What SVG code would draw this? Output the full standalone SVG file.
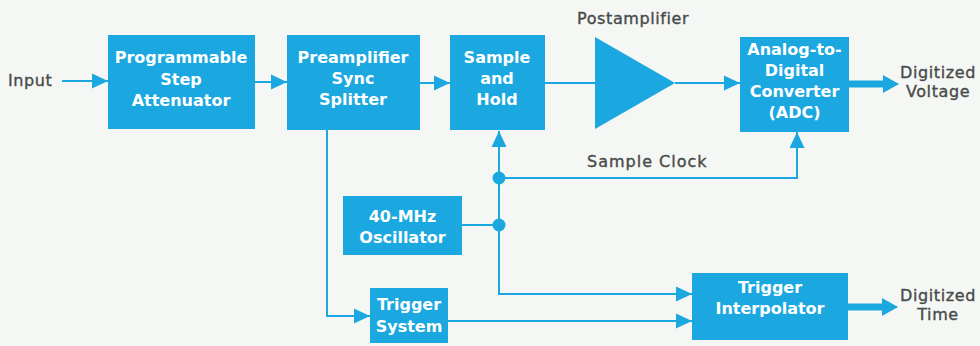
<svg xmlns="http://www.w3.org/2000/svg" width="980" height="346" viewBox="0 0 980 346">
<defs>
<style>
.box{fill:#1ba8e0}
.bt{fill:#ffffff;font-family:"DejaVu Sans",sans-serif;font-weight:bold;font-size:16px;text-anchor:middle}
.lb{fill:#474a48;stroke:#474a48;stroke-width:0.35;font-family:"DejaVu Sans",sans-serif;font-size:16px;letter-spacing:0.6px}
.ln{fill:none;stroke:#1ba8e0;stroke-width:2}
.th{fill:none;stroke:#1ba8e0;stroke-width:7}
</style>
<marker id="ah" markerUnits="userSpaceOnUse" markerWidth="16" markerHeight="16" viewBox="0 0 16 16" refX="16" refY="8" orient="auto">
<path d="M0,0.5 L16,8 L0,15.5 Z" fill="#1ba8e0"/>
</marker>
<marker id="ahT" markerUnits="userSpaceOnUse" markerWidth="16" markerHeight="18" viewBox="0 0 16 18" refX="15" refY="9" orient="auto">
<path d="M0,0 L16,9 L0,18 Z" fill="#1ba8e0"/>
</marker>
</defs>
<rect width="980" height="346" fill="#f5f7f4"/>

<g id="connectors">
<line class="ln" x1="62" y1="81" x2="108" y2="81" marker-end="url(#ah)"/>
<line class="ln" x1="255" y1="82" x2="287" y2="82" marker-end="url(#ah)"/>
<line class="ln" x1="420" y1="83" x2="450" y2="83" marker-end="url(#ah)"/>
<line class="ln" x1="545" y1="83" x2="596" y2="83"/>
<line class="ln" x1="675" y1="83" x2="740" y2="83" marker-end="url(#ah)"/>
<line class="th" x1="849" y1="84" x2="884" y2="84"/>
<line class="ln" x1="884" y1="84" x2="898" y2="84" marker-end="url(#ahT)"/>
<polyline class="ln" points="327,130 327,316 370,316" marker-end="url(#ah)"/>
<line class="ln" x1="499" y1="178" x2="499" y2="131" marker-end="url(#ah)"/>
<polyline class="ln" points="499,178 797,178 797,132" marker-end="url(#ah)"/>
<polyline class="ln" points="499,178 499,294 692,294" marker-end="url(#ah)"/>
<line class="ln" x1="462" y1="225" x2="499" y2="225"/>
<line class="ln" x1="448" y1="321" x2="692" y2="321" marker-end="url(#ah)"/>
<line class="th" x1="848" y1="307" x2="883" y2="307"/>
<line class="ln" x1="883" y1="307" x2="897" y2="307" marker-end="url(#ahT)"/>
<circle cx="499" cy="178" r="6.5" fill="#1ba8e0"/>
<circle cx="499" cy="225" r="6.5" fill="#1ba8e0"/>
</g>

<g id="input"><text class="lb" x="8" y="86">Input</text></g>

<g id="attenuator">
<rect class="box" x="108" y="35" width="147" height="94"/>
<text class="bt" x="181" y="63">Programmable</text>
<text class="bt" x="181" y="85">Step</text>
<text class="bt" x="181" y="106">Attenuator</text>
</g>

<g id="preamplifier">
<rect class="box" x="287" y="35" width="133" height="95"/>
<text class="bt" x="353" y="63">Preamplifier</text>
<text class="bt" x="353" y="84">Sync</text>
<text class="bt" x="353" y="105">Splitter</text>
</g>

<g id="samplehold">
<rect class="box" x="450" y="35" width="95" height="95"/>
<text class="bt" x="497" y="63">Sample</text>
<text class="bt" x="497" y="84">and</text>
<text class="bt" x="497" y="105">Hold</text>
</g>

<g id="postamplifier">
<polygon points="595,37 675,83 595,129" fill="#1ba8e0"/>
<text class="lb" x="577" y="24">Postamplifier</text>
</g>

<g id="adc">
<rect class="box" x="740" y="37" width="109" height="95"/>
<text class="bt" x="794.5" y="55">Analog-to-</text>
<text class="bt" x="794.5" y="76">Digital</text>
<text class="bt" x="794.5" y="97">Converter</text>
<text class="bt" x="794.5" y="118">(ADC)</text>
</g>

<g id="digitized-voltage">
<text class="lb" x="938" y="78" text-anchor="middle">Digitized</text>
<text class="lb" x="938" y="97" text-anchor="middle">Voltage</text>
</g>

<g id="sample-clock"><text class="lb" x="587" y="167" style="letter-spacing:1px">Sample Clock</text></g>

<g id="oscillator">
<rect class="box" x="343" y="196" width="119" height="59"/>
<text class="bt" x="402.5" y="222">40-MHz</text>
<text class="bt" x="402.5" y="243">Oscillator</text>
</g>

<g id="trigger-system">
<rect class="box" x="370" y="288" width="78" height="55"/>
<text class="bt" x="409" y="310">Trigger</text>
<text class="bt" x="409" y="332">System</text>
</g>

<g id="trigger-interpolator">
<rect class="box" x="692" y="273" width="156" height="67"/>
<text class="bt" x="770" y="293">Trigger</text>
<text class="bt" x="770" y="314">Interpolator</text>
</g>

<g id="digitized-time">
<text class="lb" x="938" y="301" text-anchor="middle">Digitized</text>
<text class="lb" x="938" y="320" text-anchor="middle">Time</text>
</g>
</svg>
